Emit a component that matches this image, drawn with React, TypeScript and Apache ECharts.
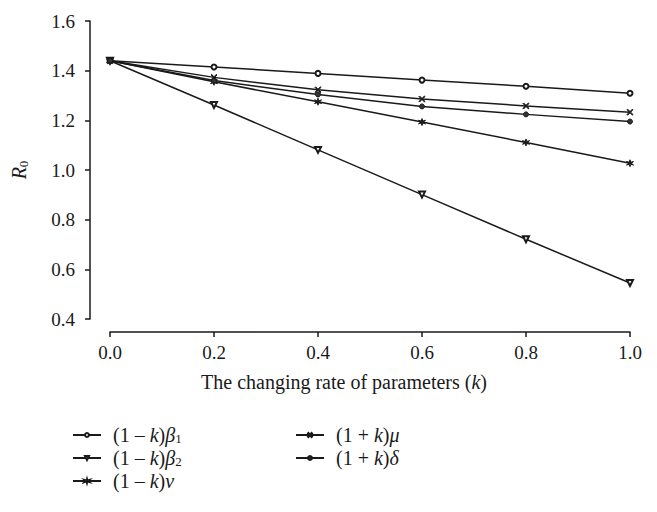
import React, { useEffect, useRef } from "react";
import * as echarts from "echarts";

const kValues = [0.0, 0.2, 0.4, 0.6, 0.8, 1.0];
const beta1 = [1.44, 1.415, 1.389, 1.362, 1.337, 1.309];
const beta2 = [1.44, 1.262, 1.081, 0.901, 0.721, 0.545];
const nu = [1.44, 1.355, 1.275, 1.193, 1.111, 1.027];
const mu = [1.44, 1.373, 1.323, 1.286, 1.258, 1.233];
const delta = [1.44, 1.36, 1.304, 1.256, 1.224, 1.195];

const seriesNames = ["b1", "b2", "nu", "mu", "delta"];
const legendLabels: Record<string, string> = {
  b1: "(1 – {i|k}){i|β}{s|1}",
  b2: "(1 – {i|k}){i|β}{s|2}",
  nu: "(1 – {i|k}){i|ν}",
  mu: "(1 + {i|k}){i|μ}",
  delta: "(1 + {i|k}){i|δ}",
};

const FONT = "Liberation Serif";
const INK = "#1a1a1a";

const xPath = "path://M1,0 L5,4 L9,0 L10,1 L6,5 L10,9 L9,10 L5,6 L1,10 L0,9 L4,5 L0,1 Z";
const starPath = "path://M5,0 L6,3.5 L10,2.5 L7,5 L10,7.5 L6,6.5 L5,10 L4,6.5 L0,7.5 L3,5 L0,2.5 L4,3.5 Z";

export default function App() {
  const ref = useRef<HTMLDivElement>(null);
  useEffect(() => {
    if (!ref.current) return;
    const chart = echarts.init(ref.current, undefined, { renderer: "svg" });
    const mk = (name: string, data: number[], symbol: string, size: number, extra: any = {}) => ({
      name,
      type: "line",
      data: kValues.map((k, i) => [k, data[i]]),
      symbol,
      symbolSize: size,
      showAllSymbol: true,
      lineStyle: { color: INK, width: 1.5 },
      itemStyle: { color: INK, borderColor: INK, borderWidth: 1 },
      ...extra,
    });
    const rich = {
      i: { fontStyle: "italic", fontFamily: FONT, fontSize: 20, color: INK },
      s: { fontFamily: FONT, fontSize: 13, color: INK, verticalAlign: "bottom", padding: [10, 0, 0, 0] },
    };
    const legendBase = {
      orient: "vertical",
      padding: 0,
      itemWidth: 28,
      itemHeight: 5,
      itemGap: 3,
      height: 90,
      formatter: (n: string) => legendLabels[n],
      textStyle: { fontFamily: FONT, fontSize: 20, color: INK, lineHeight: 20, padding: [0, 0, 0, 7], rich },
    };
    chart.setOption({
      animation: false,
      backgroundColor: "#ffffff",
      grid: { left: 110, right: 27, top: 21, bottom: 193, containLabel: false },
      xAxis: {
        type: "value",
        min: 0,
        max: 1,
        interval: 0.2,
        offset: 13,
        name: "The changing rate of parameters ({i|k})",
        nameLocation: "middle",
        nameGap: 40,
        nameMoveOverlap: false,
        nameTextStyle: { fontFamily: FONT, fontSize: 20, color: INK, rich, padding: [0, 52, 0, 0] },
        axisLine: { onZero: false, lineStyle: { color: INK, width: 1.5 } },
        axisTick: { length: 5, lineStyle: { color: INK, width: 1.5 } },
        axisLabel: { fontFamily: FONT, fontSize: 19, color: INK, margin: 11, formatter: (v: number) => v.toFixed(1) },
        splitLine: { show: false },
      },
      yAxis: {
        type: "value",
        min: 0.4,
        max: 1.6,
        interval: 0.2,
        offset: 20,
        name: "{r|R}{s|0}",
        nameLocation: "middle",
        nameRotate: 90,
        nameGap: 60,
        nameMoveOverlap: false,
        nameTextStyle: {
          fontFamily: FONT,
          fontSize: 20,
          color: INK,
          rich: {
            r: { fontStyle: "italic", fontFamily: FONT, fontSize: 20, color: INK },
            s: { fontFamily: FONT, fontSize: 13, color: INK, verticalAlign: "bottom", padding: [10, 0, 0, 0] },
          },
        },
        axisLine: { show: true, onZero: false, lineStyle: { color: INK, width: 1.5 } },
        axisTick: { show: true, length: 5, lineStyle: { color: INK, width: 1.5 } },
        axisLabel: { fontFamily: FONT, fontSize: 19, color: INK, margin: 15, formatter: (v: number) => v.toFixed(1) },
        splitLine: { show: false },
      },
      legend: [
        { ...legendBase, left: 72, top: 425, data: ["b1", "b2", "nu"] },
        { ...legendBase, left: 295, top: 425, data: ["mu", "delta"] },
      ],
      series: [
        mk(seriesNames[0], beta1, "emptyCircle", 5),
        mk(seriesNames[1], beta2, "emptyTriangle", 6, { symbolRotate: 180 }),
        mk(seriesNames[2], nu, starPath, 7),
        mk(seriesNames[3], mu, xPath, 6),
        mk(seriesNames[4], delta, "circle", 5, { itemStyle: { color: "#333", borderColor: INK, borderWidth: 1 } }),
      ],
    });
    return () => chart.dispose();
  }, []);
  return (
    <div
      ref={ref}
      style={{ position: "fixed", left: 0, top: 0, width: 657, height: 512 }}
    />
  );
}
